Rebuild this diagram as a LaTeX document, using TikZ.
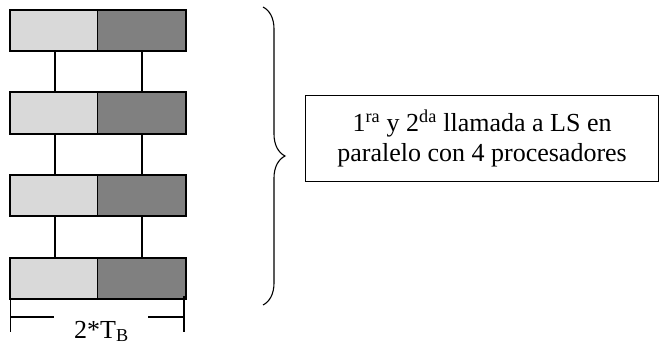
\documentclass[tikz,border=0pt]{standalone}
\usepackage{fontspec}
\setmainfont{Liberation Serif}
\usetikzlibrary{decorations.pathreplacing}
\definecolor{lightcell}{HTML}{D9D9D9}
\definecolor{darkcell}{HTML}{808080}
\begin{document}
\begin{tikzpicture}[x=1pt,y=-1pt,
  cellL/.style={fill=lightcell, draw=black, line width=0.8pt, minimum width=87pt, minimum height=41pt, inner sep=0pt, outer sep=0pt, anchor=north west},
  cellR/.style={fill=darkcell, draw=black, line width=0.8pt, minimum width=89pt, minimum height=41pt, inner sep=0pt, outer sep=0pt, anchor=north west},
  rowedge/.style={draw=black, line width=2pt},
  link/.style={draw=black, line width=1.6pt},
  dim/.style={draw=black, line width=1.2pt},
  lbl/.style={font=\fontsize{26}{30}\selectfont, inner sep=0pt}
]
\useasboundingbox (0,0) rectangle (659,345);
\foreach \i/\y in {1/10,2/92.5,3/175,4/257.5} {
  \node[cellL] (L\i) at (10,\y) {};
  \node[cellR] (R\i) at (97,\y) {};
  \draw[rowedge] (L\i.north west) rectangle (R\i.south east);
}
\foreach \i/\j in {1/2,2/3,3/4} {
  \draw[link] ([xshift=45pt]L\i.south west) -- ([xshift=45pt]L\j.north west);
  \draw[link] ([xshift=45pt]R\i.south west) -- ([xshift=45pt]R\j.north west);
}
% dimension
\node[lbl, anchor=base] (tb) at (101.5,338) {2*T\textsubscript{B}};
\coordinate (tlt) at (10.5,296);
\coordinate (tlb) at (10.5,332);
\coordinate (trt) at (184,296);
\coordinate (trb) at (184,332);
\coordinate (hl) at (10.5,317);
\coordinate (hr) at (184,317);
\draw[dim] (tlt) -- (tlb);
\draw[dim] (trt) -- (trb);
\draw[dim] (hl) -- ([xshift=-20pt]tb.west |- hl);
\draw[dim] (hr) -- ([xshift=19pt]tb.east |- hr);
% brace
\coordinate (bt) at (263,7);
\coordinate (bb) at (263,305);
\draw[decorate, decoration={brace, amplitude=22pt}, line width=1.1pt] (bt) -- (bb);
% text box
\node[draw, line width=1.2pt, minimum width=353pt, minimum height=86pt, anchor=north west, align=center, font=\fontsize{26}{30}\selectfont, inner sep=0pt] (tx) at (305,95) {1\textsuperscript{ra} y 2\textsuperscript{da} llamada a LS en\\paralelo con 4 procesadores};
\end{tikzpicture}
\end{document}
